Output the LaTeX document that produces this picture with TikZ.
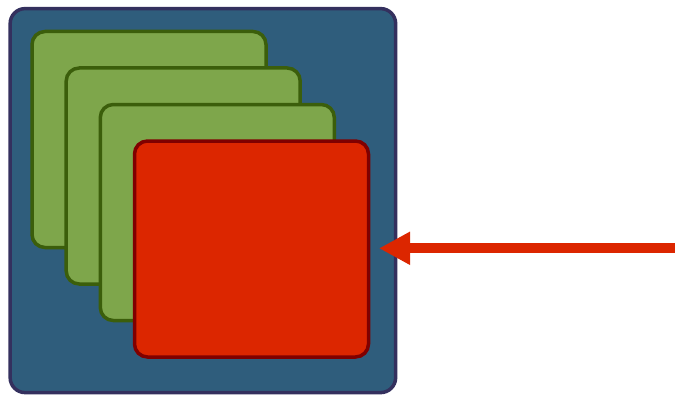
\documentclass[tikz,border=0pt]{standalone}
\usetikzlibrary{arrows.meta}
\definecolor{frameFill}{HTML}{2F5D7C}
\definecolor{frameLine}{HTML}{34305E}
\definecolor{layerFill}{HTML}{7EA64B}
\definecolor{layerLine}{HTML}{3B5E0B}
\definecolor{topFill}{HTML}{DC2600}
\definecolor{topLine}{HTML}{800000}
\begin{document}
\begin{tikzpicture}[x=1pt,y=-1pt,
  framebox/.style={draw=frameLine,fill=frameFill,line width=3.5pt,rounded corners=15pt,
    inner sep=0pt,minimum width=385.5pt,minimum height=384pt},
  layerbox/.style={draw=layerLine,fill=layerFill,line width=3.5pt,rounded corners=13pt,
    inner sep=0pt,minimum width=234pt,minimum height=216pt},
  topbox/.style={layerbox,draw=topLine,fill=topFill},
  feed/.style={draw=topFill,line width=10pt,-{Triangle[length=31pt,width=31pt]}}]
  \useasboundingbox (0,0) rectangle (675,396);
  \node[framebox] (frame) at (202.9,200.6) {};
  \node[layerbox] (layerA) at (149,139.5) {};
  \node[layerbox] (layerB) at (183.2,176) {};
  \node[layerbox] (layerC) at (217.3,212.5) {};
  \node[topbox] (top) at (251.5,249) {};
  \coordinate (src) at (675,248.3);
  \coordinate (tip) at (379,248.3);
  \draw[feed] (src) -- (tip);
\end{tikzpicture}
\end{document}
